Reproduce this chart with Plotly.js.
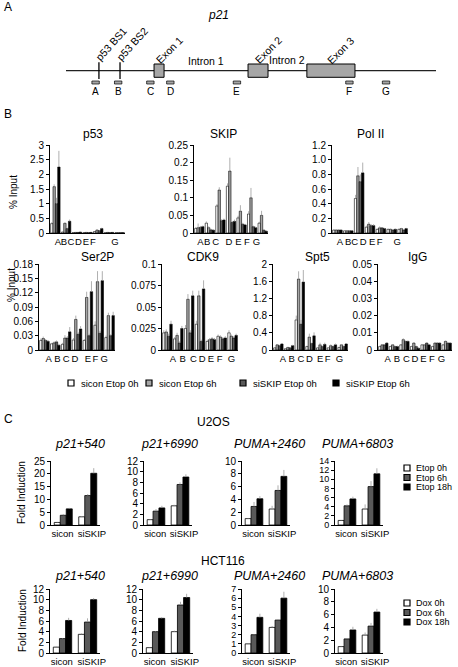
<!DOCTYPE html>
<html><head><meta charset="utf-8">
<script src="https://cdn.plot.ly/plotly-3.0.1.min.js"></script>
<style>html,body{margin:0;padding:0;background:#fff}#chart{width:458px;height:667px}</style>
</head><body><div id="chart"></div>
<script>
// ---------- Panel A: p21 gene schematic (diagram units 0..100) ----------
const geneLength = 100;
const bindingSites = ['p53 BS1','p53 BS2'];
const bindingPos = [8.9, 14.6];
const exonNames = ['Exon 1','Exon 2','Exon 3'];
const exonStart = [23.8, 49.2, 65.1];
const exonEnd = [26.5, 54.6, 78.1];
const intronNames = ['Intron 1','Intron 2'];
const probeNames = ['A','B','C','D','E','F','G'];
const probePos = [8.0, 14.1, 22.8, 28.2, 46.2, 76.6, 86.5];
const probeWidth = 2.0;

// ---------- Panel B: ChIP, % input ----------
const regions = ['A','B','C','D','E','F','G'];
const chipSeries = ['sicon Etop 0h','sicon Etop 6h','siSKIP Etop 0h','siSKIP Etop 6h'];
const chipColors = ['#ffffff','#a6a6a6','#595959','#000000'];

const p53Vals = [
  [0.32,0.03,0.01,0.01,0.05,0.01,0.01],
  [1.58,0.33,0.02,0.02,0.10,0.02,0.01],
  [1.00,0.15,0.02,0.01,0.08,0.01,0.01],
  [2.25,0.40,0.03,0.02,0.15,0.02,0.01]];
const p53Err = [
  [0.05,0.02,0.005,0.005,0.01,0.005,0.005],
  [0.08,0.03,0.005,0.005,0.02,0.005,0.005],
  [0.20,0.03,0.005,0.005,0.02,0.005,0.005],
  [0.55,0.06,0.01,0.005,0.03,0.005,0.005]];
const skipVals = [
  [0.013,0.028,0.077,0.133,0.043,0.054,0.028],
  [0.015,0.015,0.122,0.176,0.062,0.100,0.050],
  [0.016,0.009,0.035,0.030,0.025,0.018,0.008],
  [0.018,0.008,0.037,0.033,0.023,0.015,0.005]];
const skipErr = [
  [0.004,0.005,0.005,0.008,0.006,0.008,0.004],
  [0.012,0.004,0.008,0.038,0.017,0.028,0.013],
  [0.004,0.003,0.004,0.004,0.004,0.003,0.002],
  [0.003,0.002,0.004,0.005,0.003,0.003,0.002]];
const polVals = [
  [0.04,0.03,0.47,0.08,0.05,0.05,0.05],
  [0.04,0.03,0.78,0.12,0.07,0.05,0.06],
  [0.04,0.03,0.70,0.10,0.07,0.04,0.04],
  [0.04,0.03,0.82,0.10,0.06,0.05,0.06]];
const polErr = [
  [0.01,0.01,0.05,0.02,0.01,0.01,0.01],
  [0.01,0.01,0.12,0.03,0.02,0.01,0.01],
  [0.01,0.01,0.10,0.02,0.01,0.01,0.01],
  [0.01,0.01,0.14,0.02,0.01,0.01,0.01]];
const ser2pVals = [
  [0.020,0.013,0.012,0.021,0.020,0.052,0.026],
  [0.024,0.015,0.025,0.064,0.110,0.143,0.072],
  [0.020,0.017,0.025,0.033,0.030,0.035,0.030],
  [0.018,0.010,0.038,0.044,0.122,0.145,0.072]];
const ser2pErr = [
  [0.004,0.002,0.003,0.004,0.003,0.008,0.004],
  [0.004,0.003,0.006,0.008,0.012,0.022,0.006],
  [0.003,0.003,0.004,0.004,0.004,0.005,0.003],
  [0.003,0.003,0.010,0.006,0.022,0.020,0.008]];
const cdk9Vals = [
  [0.020,0.013,0.025,0.030,0.010,0.016,0.020],
  [0.021,0.017,0.059,0.063,0.012,0.015,0.016],
  [0.016,0.008,0.020,0.010,0.013,0.013,0.014],
  [0.030,0.025,0.063,0.071,0.012,0.014,0.017]];
const cdk9Err = [
  [0.003,0.002,0.004,0.004,0.002,0.002,0.003],
  [0.003,0.003,0.006,0.006,0.002,0.002,0.002],
  [0.003,0.002,0.003,0.002,0.002,0.002,0.002],
  [0.004,0.003,0.006,0.010,0.002,0.002,0.002]];
const spt5Vals = [
  [0.05,0.03,0.70,0.08,0.05,0.05,0.06],
  [0.12,0.06,1.65,0.30,0.12,0.10,0.12],
  [0.10,0.05,0.60,0.15,0.08,0.08,0.08],
  [0.14,0.10,1.58,0.33,0.13,0.12,0.14]];
const spt5Err = [
  [0.01,0.01,0.10,0.02,0.01,0.01,0.01],
  [0.02,0.01,0.18,0.08,0.05,0.03,0.02],
  [0.02,0.01,0.10,0.02,0.02,0.02,0.02],
  [0.02,0.02,0.28,0.08,0.04,0.03,0.02]];
const iggVals = [
  [0.002,0.002,0.003,0.002,0.003,0.002,0.003],
  [0.003,0.003,0.006,0.004,0.003,0.004,0.005],
  [0.003,0.002,0.005,0.002,0.004,0.004,0.004],
  [0.004,0.002,0.005,0.001,0.003,0.004,0.004]];
const iggErr = [
  [0.0005,0.0005,0.0005,0.0005,0.0005,0.0005,0.0005],
  [0.0005,0.0005,0.0008,0.0005,0.0005,0.0005,0.0005],
  [0.0005,0.0005,0.0005,0.0005,0.0005,0.0005,0.0005],
  [0.0005,0.0005,0.0005,0.0005,0.0005,0.0005,0.0005]];

// x positions of the region tick labels (as printed, in group units)
const p53LabelPos = [0.25,0.8,1.45,2.15,2.85,3.5,5.55];
const skipLabelPos = [0.1,0.75,1.55,2.8,3.7,4.5,5.4];
const polLabelPos = [0.24,0.98,1.6,2.37,3.2,3.9,5.5];
const ser2pLabelPos = [0.4,1.2,2.0,2.8,4.0,4.7,5.5];
const cdk9LabelPos = [0.5,1.4,2.4,3.2,4.0,4.8,5.9];
const spt5LabelPos = [0.42,1.25,2.1,2.9,3.9,4.6,5.7];
const iggLabelPos = [0.42,1.3,2.2,3.0,3.8,4.6,5.5];
const polTickVals = [0,0.2,0.4,0.6,0.8,1.0,1.2];
const polTickText = ['0','0.2','0.4','0.6','0.8','1.0','1.2'];

// ---------- Panel C: fold induction ----------
const cGroups = ['sicon','siSKIP'];
const cGroupLabelPos = [-0.03, 1.17];
const etopSeries = ['Etop 0h','Etop 6h','Etop 18h'];
const doxSeries = ['Dox 0h','Dox 6h','Dox 18h'];
const timeColors = ['#ffffff','#595959','#000000'];
const geneTitles = ['p21+540','p21+6990','PUMA+2460','PUMA+6803'];

const u2osP21_540 = [[1.0,3.2],[3.8,11.5],[6.3,20.2]];
const u2osP21_540Err = [[0.2,0.3],[0.5,0.6],[0.4,2.0]];
const u2osP21_6990 = [[1.0,3.6],[2.6,7.6],[3.2,9.0]];
const u2osP21_6990Err = [[0.1,0.2],[0.4,0.4],[0.4,0.5]];
const u2osPuma2460 = [[1.0,2.5],[2.9,5.4],[4.1,7.6]];
const u2osPuma2460Err = [[0.1,0.5],[0.7,0.8],[0.4,1.0]];
const u2osPuma6803 = [[1.0,3.5],[4.2,8.4],[5.7,11.2]];
const u2osPuma6803Err = [[0.1,1.0],[0.3,1.2],[0.5,1.2]];

const hctP21_540 = [[1.1,3.5],[2.7,5.8],[6.1,10.0]];
const hctP21_540Err = [[0.1,0.2],[0.1,0.7],[0.5,0.3]];
const hctP21_6990 = [[1.0,4.0],[4.0,9.0],[6.5,10.4]];
const hctP21_6990Err = [[0.05,0.2],[0.1,0.6],[0.2,0.7]];
const hctPuma2460 = [[1.0,2.8],[2.0,3.6],[3.9,6.0]];
const hctPuma2460Err = [[0.05,0.15],[0.05,0.1],[0.4,0.7]];
const hctPuma6803 = [[1.0,2.8],[2.2,4.2],[3.6,6.4]];
const hctPuma6803Err = [[0.1,0.4],[0.1,0.5],[0.5,0.5]];

// ================= build =================
const W = 458, H = 667;
const fx = p => p / W, fy = p => 1 - p / H;
const FONT = '"Liberation Sans", Arial, sans-serif';
const data = [];
const layout = {
  width: W, height: H, margin: {l:0,r:0,t:0,b:0},
  paper_bgcolor: '#fff', plot_bgcolor: 'rgba(0,0,0,0)',
  barmode: 'overlay', showlegend: false,
  font: {family: FONT, size: 10, color: '#000'},
  annotations: [], shapes: []
};
function ann(text, x, y, o) {
  layout.annotations.push(Object.assign({text, x: fx(x), y: fy(y), xref:'paper', yref:'paper',
    showarrow:false, xanchor:'center', yanchor:'middle', font:{size:10, color:'#000'}}, o || {}));
}
function yAxis(ax, y0, y1, max, dtick, extra, fs) {
  layout['yaxis'+ax] = Object.assign({domain:[fy(y1), fy(y0)], anchor:'x'+ax, range:[0,max], dtick,
    showline:true, linecolor:'#000', linewidth:1, ticks:'outside', ticklen:3, tickwidth:1, tickcolor:'#000',
    showgrid:false, zeroline:false, fixedrange:true, tickfont:{size:fs || 10, color:'#000'}}, extra||{});
}
function xAxis(ax, x0, x1, range, tickvals, ticktext, fs) {
  layout['xaxis'+ax] = {domain:[fx(x0), fx(x1)], anchor:'y'+ax, range, tickvals, ticktext, tickangle:0,
    showline:true, linecolor:'#000', linewidth:1, ticks:'', showgrid:false, zeroline:false,
    fixedrange:true, tickfont:{size:fs || 10, color:'#000'}};
}

// ---- Panel B ----
const chipPanels = [
  {title:'p53', vals:p53Vals, err:p53Err, lab:p53LabelPos, xpx:[50,125], ypx:[145,233], max:3, dtick:0.5, tx:93, ty:134},
  {title:'SKIP', vals:skipVals, err:skipErr, lab:skipLabelPos, xpx:[194,268], ypx:[145,233], max:0.25, dtick:0.05, tx:223, ty:134},
  {title:'Pol II', vals:polVals, err:polErr, lab:polLabelPos, xpx:[332,408], ypx:[145,233], max:1.2, dtick:0.2, tx:370, ty:134,
   extra:{tickvals:polTickVals, ticktext:polTickText}},
  {title:'Ser2P', vals:ser2pVals, err:ser2pErr, lab:ser2pLabelPos, xpx:[39,115], ypx:[264,350], max:0.18, dtick:0.03, tx:97, ty:257},
  {title:'CDK9', vals:cdk9Vals, err:cdk9Err, lab:cdk9LabelPos, xpx:[162,238], ypx:[264,350], max:0.1, dtick:0.025, tx:203, ty:257},
  {title:'Spt5', vals:spt5Vals, err:spt5Err, lab:spt5LabelPos, xpx:[273,348], ypx:[264,350], max:2, dtick:0.4, tx:317, ty:257},
  {title:'IgG', vals:iggVals, err:iggErr, lab:iggLabelPos, xpx:[378,452], ypx:[264,350], max:0.05, dtick:0.01, tx:417, ty:257}
];
const chipBarW = 0.22;
const regionIdx = regions.map((_, i) => i);
chipPanels.forEach((p, k) => {
  const ax = k + 1;
  xAxis(ax, p.xpx[0], p.xpx[1], [-0.5, 6.5], p.lab, regions, 9.5);
  yAxis(ax, p.ypx[0], p.ypx[1], p.max, p.dtick, p.extra);
  chipSeries.forEach((name, s) => {
    data.push({type:'bar', name, x:regionIdx, y:p.vals[s], xaxis:'x'+ax, yaxis:'y'+ax,
      width:chipBarW, offset:-2*chipBarW + s*chipBarW,
      marker:{color:chipColors[s], line:{color:'#000', width:0.6}},
      error_y:{type:'data', array:p.err[s], arrayminus:p.err[s].map(()=>0), symmetric:false,
        color:'#9a9a9a', thickness:0.8, width:0},
      hoverinfo:'skip'});
  });
  ann(p.title, p.tx, p.ty, {font:{size:12, color:'#000'}});
});
ann('% Input', 14, 192, {textangle:-90, font:{size:10, color:'#000'}});
ann('% Input', 11, 285, {textangle:-90, font:{size:10, color:'#000'}});

// legend B (keys built from series names/colours)
const legBX = [68, 146, 240, 333];
chipSeries.forEach((name, s) => {
  layout.shapes.push({type:'rect', xref:'paper', yref:'paper', x0:fx(legBX[s]), x1:fx(legBX[s]+6),
    y0:fy(386), y1:fy(380), fillcolor:chipColors[s], line:{color:'#000', width:1.2}});
  ann(name, legBX[s]+11, 383, {xanchor:'left', font:{size:9.5, color:'#000'}});
});

// ---- Panel C ----
const cBarW = 0.245;
const cPanels = [
  {vals:u2osP21_540, err:u2osP21_540Err, xpx:[51,100], ypx:[461,525], max:25, dtick:5},
  {vals:u2osP21_6990, err:u2osP21_6990Err, xpx:[144,192], ypx:[461,525], max:12, dtick:2},
  {vals:u2osPuma2460, err:u2osPuma2460Err, xpx:[242,290], ypx:[461,525], max:10, dtick:2},
  {vals:u2osPuma6803, err:u2osPuma6803Err, xpx:[335,383], ypx:[461,525], max:14, dtick:2, fs:9},
  {vals:hctP21_540, err:hctP21_540Err, xpx:[50,100], ypx:[589,653], max:12, dtick:2},
  {vals:hctP21_6990, err:hctP21_6990Err, xpx:[143,193], ypx:[589,653], max:12, dtick:2},
  {vals:hctPuma2460, err:hctPuma2460Err, xpx:[242,290], ypx:[589,653], max:7, dtick:1, fs:9},
  {vals:hctPuma6803, err:hctPuma6803Err, xpx:[335,383], ypx:[589,653], max:10, dtick:2}
];
const titleCX = [80, 169, 269, 357];
cPanels.forEach((p, k) => {
  const ax = k + 8;
  const names = k < 4 ? etopSeries : doxSeries;
  xAxis(ax, p.xpx[0], p.xpx[1], [-0.5, 1.5], cGroupLabelPos, cGroups, 9.5);
  yAxis(ax, p.ypx[0], p.ypx[1], p.max, p.dtick, null, p.fs);
  names.forEach((name, s) => {
    data.push({type:'bar', name, x:[0, 1], y:p.vals[s], xaxis:'x'+ax, yaxis:'y'+ax,
      width:cBarW, offset:-1.5*cBarW + s*cBarW,
      marker:{color:timeColors[s], line:{color:'#000', width:0.8}},
      error_y:{type:'data', array:p.err[s], arrayminus:[0,0], symmetric:false,
        color:'#9a9a9a', thickness:0.8, width:0},
      hoverinfo:'skip'});
  });
  ann('<i>' + geneTitles[k % 4] + '</i>', titleCX[k % 4], k < 4 ? 444 : 576, {font:{size:12.5, color:'#000'}});
});
ann('U2OS', 213, 422, {font:{size:12, color:'#000'}});
ann('HCT116', 223, 561, {font:{size:12, color:'#000'}});
ann('Fold Induction', 22, 493, {textangle:-90, font:{size:10, color:'#000'}});
ann('Fold Induction', 22, 621, {textangle:-90, font:{size:10, color:'#000'}});
[[etopSeries, 468], [doxSeries, 603]].forEach(([names, y0]) => {
  names.forEach((name, s) => {
    const yc = y0 + s * 9.5;
    layout.shapes.push({type:'rect', xref:'paper', yref:'paper', x0:fx(404), x1:fx(410),
      y0:fy(yc+3), y1:fy(yc-3), fillcolor:timeColors[s], line:{color:'#000', width:1.2}});
    ann(name, 414, yc, {xanchor:'left', font:{size:9, color:'#000'}});
  });
});

// ---- Panel A ----
const lineY = 70.7;
layout.xaxis16 = {domain:[fx(66), fx(436)], anchor:'y16', range:[0, geneLength], visible:false, fixedrange:true};
layout.yaxis16 = {domain:[fy(100), fy(20)], anchor:'x16', range:[100, 20], visible:false, fixedrange:true};
data.push({type:'scatter', mode:'lines', x:[0, geneLength], y:[lineY, lineY], xaxis:'x16', yaxis:'y16',
  line:{color:'#222', width:1.3}, hoverinfo:'skip'});
data.push({type:'scatter', mode:'markers', x:bindingPos, y:bindingPos.map(()=>lineY), xaxis:'x16', yaxis:'y16',
  marker:{symbol:'line-ns', size:12, line:{color:'#000', width:1.3}}, hoverinfo:'skip'});
exonStart.forEach((x0, i) => {
  layout.shapes.push({type:'rect', xref:'x16', yref:'y16', x0, x1:exonEnd[i], y0:64, y1:77.3,
    fillcolor:'#a6a6a6', line:{color:'#000', width:1}});
});
probePos.forEach((c, i) => {
  layout.shapes.push({type:'rect', xref:'x16', yref:'y16', x0:c-probeWidth/2, x1:c+probeWidth/2, y0:81, y1:84,
    fillcolor:'#a6a6a6', line:{color:'#000', width:0.7}});
  layout.annotations.push({text:probeNames[i], x:c, y:91, xref:'x16', yref:'y16', showarrow:false,
    xanchor:'center', yanchor:'middle', font:{size:10, color:'#000'}});
});
const diagAnn = (text, x, y, xshift, angle) => layout.annotations.push({text, x, y, xref:'x16', yref:'y16',
  showarrow:false, xanchor:'center', yanchor:'middle', xshift, textangle:angle, font:{size:10.5, color:'#000'}});
bindingSites.forEach((t, i) => diagAnn(t, bindingPos[i], 44, 12, -48));
exonNames.forEach((t, i) => diagAnn(t, (exonStart[i]+exonEnd[i])/2, 50, 10, -45));
diagAnn(intronNames[0], (exonEnd[0]+exonStart[1])/2, 61, 0, 0);
diagAnn(intronNames[1], (exonEnd[1]+exonStart[2])/2, 60, 0, 0);
ann('<i>p21</i>', 218, 15, {font:{size:12, color:'#000'}});
ann('A', 8, 7, {font:{size:12, color:'#000'}});
ann('B', 8, 114, {font:{size:12, color:'#000'}});
ann('C', 8, 419, {font:{size:12, color:'#000'}});

Plotly.newPlot('chart', data, layout, {staticPlot:true, displayModeBar:false});
</script></body></html>
